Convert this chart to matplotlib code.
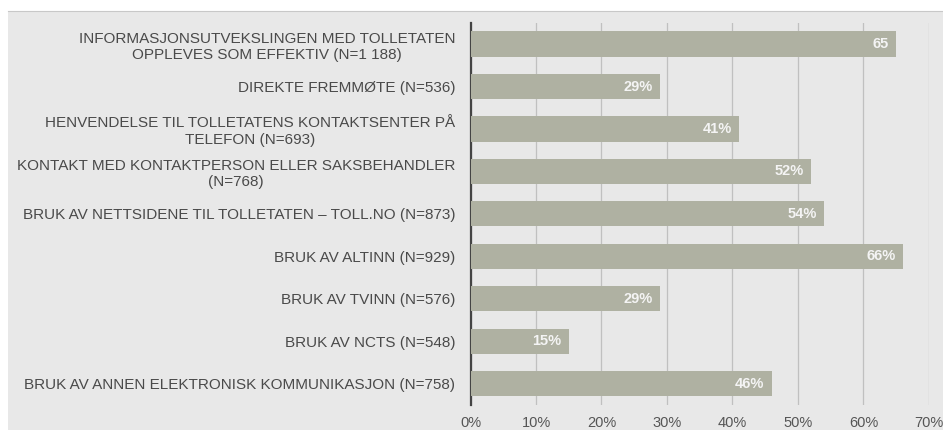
import matplotlib.pyplot as plt
from matplotlib.patches import Rectangle

plt.rcParams['font.family'] = ['Liberation Sans', 'DejaVu Sans']

kategorier = [
    'INFORMASJONSUTVEKSLINGEN MED TOLLETATEN\nOPPLEVES SOM EFFEKTIV (N=1 188)',
    'DIREKTE FREMMØTE (N=536)',
    'HENVENDELSE TIL TOLLETATENS KONTAKTSENTER PÅ\nTELEFON (N=693)',
    'KONTAKT MED KONTAKTPERSON ELLER SAKSBEHANDLER\n(N=768)',
    'BRUK AV NETTSIDENE TIL TOLLETATEN – TOLL.NO (N=873)',
    'BRUK AV ALTINN (N=929)',
    'BRUK AV TVINN (N=576)',
    'BRUK AV NCTS (N=548)',
    'BRUK AV ANNEN ELEKTRONISK KOMMUNIKASJON (N=758)',
]
verdier = [65, 29, 41, 52, 54, 66, 29, 15, 46]
etiketter = ['65', '29%', '41%', '52%', '54%', '66%', '29%', '15%', '46%']
xticks = [0, 10, 20, 30, 40, 50, 60, 70]

bakgrunn = '#e8e8e8'
fig = plt.figure(figsize=(9.43, 4.3), dpi=100, facecolor=bakgrunn)
# hvit kant oppe og til venstre, som i skjermbildet
fig.patches.append(Rectangle((0, 0.975), 1, 0.025, transform=fig.transFigure,
                             facecolor='white', edgecolor='none', zorder=-1))
fig.patches.append(Rectangle((0, 0), 0.008, 1, transform=fig.transFigure,
                             facecolor='white', edgecolor='none', zorder=-1))
fig.lines.append(plt.Line2D([0.008, 1], [0.975, 0.975], transform=fig.transFigure,
                            color='#c8c8c8', lw=0.8))

ax = fig.add_axes([0.499, 0.058, 0.486, 0.889])
ax.set_facecolor('none')

y = list(range(len(kategorier)))
ax.barh(y, verdier, height=0.59, color='#afb1a2', zorder=3)
for yi, v, t in zip(y, verdier, etiketter):
    ax.text(v - 1.1, yi, t, ha='right', va='center', color='#f4f4f4',
            fontsize=10.5, fontweight='bold', zorder=4)

ax.set_xlim(0, 70)
ax.set_ylim(8.5, -0.5)
ax.set_xticks(xticks)
ax.set_xticklabels([f'{x}%' for x in xticks], color='#555555', fontsize=10.5)
ax.set_yticks(y)
ax.set_yticklabels(kategorier, color='#4a4a4a', fontsize=11,
                   multialignment='center', linespacing=1.2)
ax.tick_params(axis='y', length=0, pad=11)
ax.tick_params(axis='x', length=0, pad=8)

ax.grid(axis='x', color='#c0c0c0', lw=0.9, zorder=0)
for s in ['top', 'right', 'bottom']:
    ax.spines[s].set_visible(False)
ax.spines['left'].set_color('#444444')
ax.spines['left'].set_linewidth(1.6)

fig.savefig('out.png', dpi=100, facecolor=bakgrunn)
